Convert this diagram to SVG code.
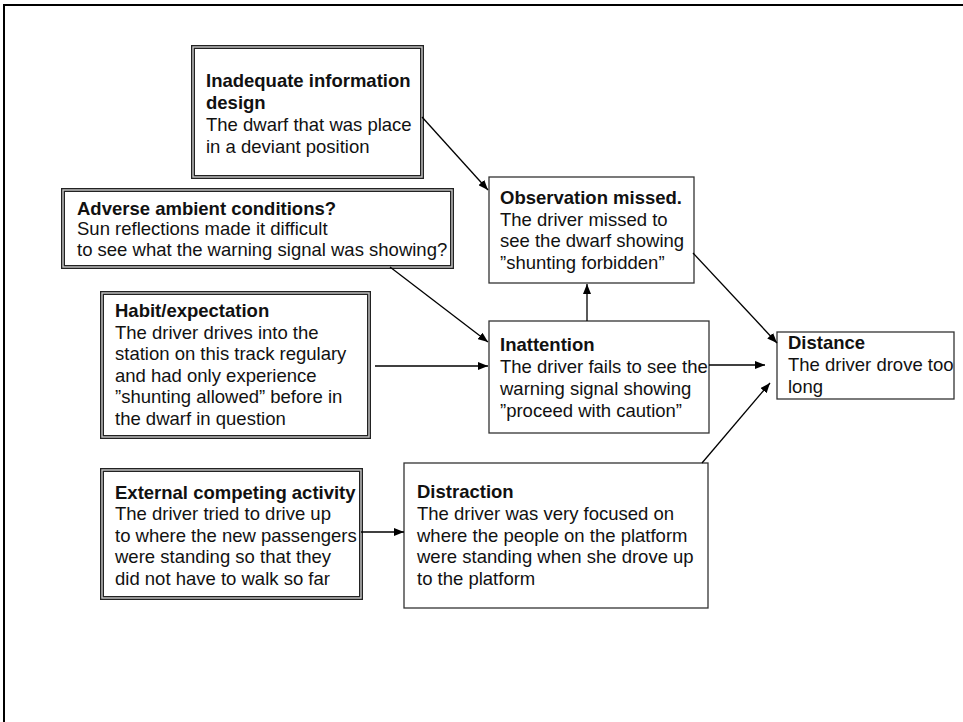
<svg xmlns="http://www.w3.org/2000/svg" width="963" height="722" viewBox="0 0 963 722">
  <style>
    text { font-family: "Liberation Sans", Arial, sans-serif; font-size: 18.5px; fill: #111; }
    .b { font-weight: bold; }
    .frame { stroke: #000; stroke-width: 2; fill: none; }
    .dbl-out { fill: #fff; stroke: #222; stroke-width: 4; }
    .dbl-in { fill: none; stroke: #c8c8c8; stroke-width: 1.4; }
    .single { fill: #fff; stroke: #333; stroke-width: 1.3; }
    .conn line { stroke: #000; stroke-width: 1.3; marker-end: url(#arrow); }
  </style>
  <defs>
    <marker id="arrow" markerUnits="userSpaceOnUse" markerWidth="10" markerHeight="8" refX="10" refY="4" orient="auto">
      <path d="M0,0 L10,4 L0,8 z" fill="#000"/>
    </marker>
  </defs>

  <rect width="963" height="722" fill="#fff"/>
  <!-- page frame: top and left edges only -->
  <path class="frame" d="M4,722 V5 H963"/>

  <g id="n-info-design">
    <rect class="dbl-out" x="193" y="47" width="229" height="130"/>
    <rect class="dbl-in" x="193" y="47" width="229" height="130"/>
    <text x="206" y="87" class="b">Inadequate information</text>
    <text x="206" y="109" class="b">design</text>
    <text x="206" y="131">The dwarf that was place</text>
    <text x="206" y="153">in a deviant position</text>
  </g>

  <g id="n-ambient">
    <rect class="dbl-out" x="63" y="190" width="389" height="77"/>
    <rect class="dbl-in" x="63" y="190" width="389" height="77"/>
    <text x="77" y="215" class="b">Adverse ambient conditions?</text>
    <text x="77" y="235">Sun reflections made it difficult</text>
    <text x="77" y="256">to see what the warning signal was showing?</text>
  </g>

  <g id="n-habit">
    <rect class="dbl-out" x="102" y="293" width="267" height="144"/>
    <rect class="dbl-in" x="102" y="293" width="267" height="144"/>
    <text x="115" y="317" class="b">Habit/expectation</text>
    <text x="115" y="339">The driver drives into the</text>
    <text x="115" y="360">station on this track regulary</text>
    <text x="115" y="382">and had only experience</text>
    <text x="115" y="403">”shunting allowed” before in</text>
    <text x="115" y="425">the dwarf in question</text>
  </g>

  <g id="n-external">
    <rect class="dbl-out" x="102" y="470" width="259" height="128"/>
    <rect class="dbl-in" x="102" y="470" width="259" height="128"/>
    <text x="115" y="499" class="b">External competing activity</text>
    <text x="115" y="520">The driver tried to drive up</text>
    <text x="115" y="542">to where the new passengers</text>
    <text x="115" y="563">were standing so that they</text>
    <text x="115" y="585">did not have to walk so far</text>
  </g>

  <g id="n-observation">
    <rect class="single" x="489" y="177" width="205" height="106"/>
    <text x="500" y="204" class="b">Observation missed.</text>
    <text x="500" y="226">The driver missed to</text>
    <text x="500" y="247">see the dwarf showing</text>
    <text x="500" y="269">”shunting forbidden”</text>
  </g>

  <g id="n-inattention">
    <rect class="single" x="489" y="321" width="220" height="112"/>
    <text x="500" y="351" class="b">Inattention</text>
    <text x="500" y="373">The driver fails to see the</text>
    <text x="500" y="395">warning signal showing</text>
    <text x="500" y="417">”proceed with caution”</text>
  </g>

  <g id="n-distance">
    <rect class="single" x="777" y="332" width="177" height="67"/>
    <text x="788" y="349" class="b">Distance</text>
    <text x="788" y="371">The driver drove too</text>
    <text x="788" y="393">long</text>
  </g>

  <g id="n-distraction">
    <rect class="single" x="404" y="463" width="304" height="145"/>
    <text x="417" y="498" class="b">Distraction</text>
    <text x="417" y="520">The driver was very focused on</text>
    <text x="417" y="542">where the people on the platform</text>
    <text x="417" y="563">were standing when she drove up</text>
    <text x="417" y="585">to the platform</text>
  </g>

  <g id="connectors" class="conn">
    <line x1="422" y1="117" x2="488" y2="190"/>
    <line x1="390" y1="267" x2="488" y2="342"/>
    <line x1="375" y1="366" x2="488" y2="366"/>
    <line x1="587" y1="321" x2="587" y2="284"/>
    <line x1="693" y1="253" x2="777" y2="343"/>
    <line x1="709" y1="365" x2="765" y2="365"/>
    <line x1="702" y1="463" x2="770" y2="383"/>
    <line x1="361" y1="532" x2="404" y2="532"/>
  </g>
</svg>
